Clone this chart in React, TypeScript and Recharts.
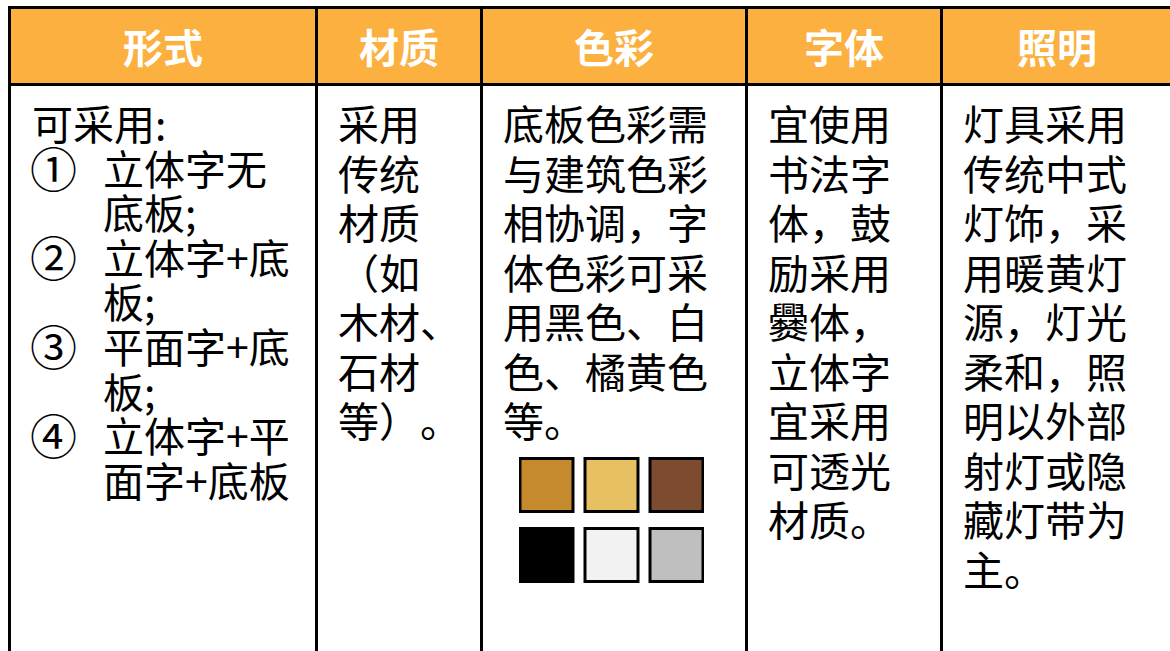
import { ScatterChart, Scatter, XAxis, YAxis, Cell } from "recharts";

// 表头
const headers = ["形式", "材质", "色彩", "字体", "照明"];

// 每列正文（按原图换行）
const formIntro = "可采用:";
const formItems = [
    { mark: "①", lines: ["立体字无", "底板;"] },
    { mark: "②", lines: ["立体字+底", "板;"] },
    { mark: "③", lines: ["平面字+底", "板;"] },
    { mark: "④", lines: ["立体字+平", "面字+底板"] },
];
const materialLines = ["采用", "传统", "材质", "（如", "木材、", "石材", "等）。"];
const colorLines = ["底板色彩需", "与建筑色彩", "相协调，字", "体色彩可采", "用黑色、白", "色、橘黄色", "等。"];
const fontLines = ["宜使用", "书法字", "体，鼓", "励采用", "爨体，", "立体字", "宜采用", "可透光", "材质。"];
const lightLines = ["灯具采用", "传统中式", "灯饰，采", "用暖黄灯", "源，灯光", "柔和，照", "明以外部", "射灯或隐", "藏灯带为", "主。"];

// 色卡
const swatchCol = [0, 1, 2, 0, 1, 2];
const swatchRow = [0, 0, 0, 1, 1, 1];
const swatchFill = ["#C68A2E", "#E6C062", "#7C4B30", "#000000", "#F2F2F2", "#BFBFBF"];

const swatches = swatchFill.map((fill, i) => ({ x: swatchCol[i], y: swatchRow[i], fill }));

// 列边界（竖线左缘）
const colBorders = [8, 315, 480, 745, 940, 1171];

const FONT = '"Noto Sans CJK SC", "Noto Sans", sans-serif';

function SwatchShape(props: any) {
    const { cx, cy, payload } = props;
    const s = 55;
    return (
        <rect
            x={cx - s / 2 + 1}
            y={cy - s / 2 + 1}
            width={s - 2}
            height={s - 2}
            fill={payload.fill}
            stroke="#000"
            strokeWidth={3}
        />
    );
}

function Lines({ lines, left, top, lh }: { lines: string[]; left: number; top: number; lh: number }) {
    return (
        <div style={{ position: "absolute", left, top, fontSize: 41, lineHeight: `${lh}px`, whiteSpace: "nowrap" }}>
            {lines.map((l, i) => (
                <div key={i}>{l}</div>
            ))}
        </div>
    );
}

export default function App() {
    return (
        <div
            style={{
                position: "fixed",
                left: 0,
                top: 0,
                width: 1170,
                height: 651,
                overflow: "hidden",
                background: "#fff",
                fontFamily: FONT,
                color: "#000",
                // keep full-width punctuation at full width, like the reference
                textSpacingTrim: "space-all",
            } as any}
        >
            {/* header fill */}
            <div style={{ position: "absolute", left: 11, top: 9, width: 1160, height: 74, background: "#FBB040" }} />

            {/* header labels */}
            {headers.map((h, i) => {
                const l = colBorders[i] + 3;
                const r = colBorders[i + 1];
                return (
                    <div
                        key={h}
                        style={{
                            position: "absolute",
                            left: l,
                            width: r - l,
                            top: 9,
                            height: 74,
                            lineHeight: "74px",
                            textAlign: "center",
                            fontSize: 40,
                            fontWeight: 700,
                            color: "#fff",
                        }}
                    >
                        {h}
                    </div>
                );
            })}

            {/* grid lines */}
            <div style={{ position: "absolute", left: 8, top: 6, width: 1170, height: 3, background: "#000" }} />
            <div style={{ position: "absolute", left: 8, top: 83, width: 1170, height: 3, background: "#000" }} />
            {colBorders.map((x) => (
                <div key={x} style={{ position: "absolute", left: x, top: 6, width: 3, height: 660, background: "#000" }} />
            ))}

            {/* 形式 */}
            <div style={{ position: "absolute", left: 32, top: 100, fontSize: 41, lineHeight: "44.6px", whiteSpace: "nowrap" }}>
                <div>{formIntro}</div>
                {formItems.map((it) => (
                    <div key={it.mark} style={{ display: "flex" }}>
                        <div style={{ width: 71, fontSize: 47, marginLeft: -2 }}>{it.mark}</div>
                        <div style={{ marginLeft: 2 }}>
                            {it.lines.map((l, i) => (
                                <div key={i}>{l}</div>
                            ))}
                        </div>
                    </div>
                ))}
            </div>

            <Lines lines={materialLines} left={338} top={98} lh={49.5} />
            <Lines lines={colorLines} left={503} top={98} lh={49.5} />
            <Lines lines={fontLines} left={768} top={98} lh={49.5} />
            <Lines lines={lightLines} left={963} top={98} lh={49.5} />

            {/* 色卡 */}
            <div style={{ position: "absolute", left: 519, top: 457 }}>
                <ScatterChart width={185} height={126} margin={{ top: 28, right: 27.5, bottom: 28, left: 27.5 }}>
                    <XAxis type="number" dataKey="x" domain={[0, 2]} hide />
                    <YAxis type="number" dataKey="y" domain={[0, 1]} reversed hide />
                    <Scatter data={swatches} shape={SwatchShape} isAnimationActive={false}>
                        {swatches.map((s, i) => (
                            <Cell key={i} fill={s.fill} />
                        ))}
                    </Scatter>
                </ScatterChart>
            </div>
        </div>
    );
}
